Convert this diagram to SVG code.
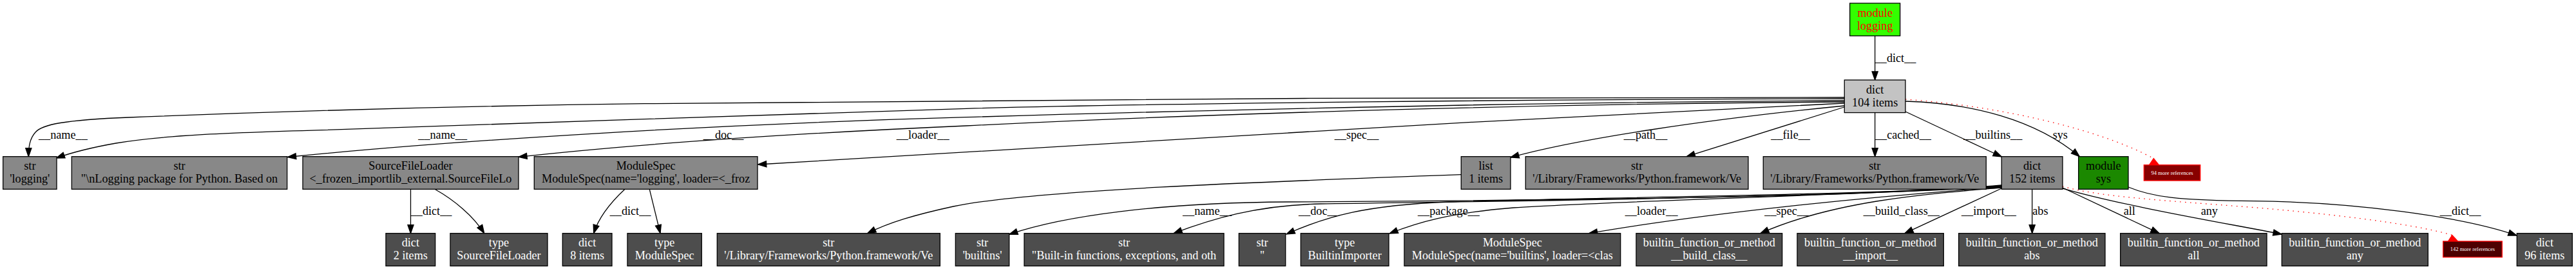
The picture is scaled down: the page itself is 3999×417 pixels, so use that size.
<svg xmlns="http://www.w3.org/2000/svg" width="3999" height="417" viewBox="0 0 3999 417">
<style>
.bx{stroke:#000;stroke-width:1.3}
.d1{fill:#c3c3c3}.d2{fill:#888888}.d3{fill:#4d4d4d}
.gl{fill:#33ff00}.gs{fill:#1b8800}
.rm{fill:#880000;stroke:#ff0000;stroke-width:1.3}.rm3{fill:#4d0000;stroke:#ff0000;stroke-width:1.3}
text{font-family:"Liberation Serif","Times New Roman",serif;font-size:18.2px;fill:#000}
.c{text-anchor:middle}
.w{fill:#fff}
.red{fill:#ff0000}
.sm{font-size:8.5px;fill:#fff;text-anchor:middle}
.e{fill:none;stroke:#000;stroke-width:1.3;marker-end:url(#ah)}
.r{fill:none;stroke:#ff0000;stroke-width:1.3;stroke-dasharray:1.5 6.5}
.ra{fill:#ff0000;stroke:#ff0000;stroke-width:1.3}
</style>
<defs>
<marker id="ah" markerUnits="userSpaceOnUse" markerWidth="16" markerHeight="12" viewBox="-1 -1 16 12" refX="13" refY="4.55" orient="auto" overflow="visible">
<path d="M0,0 L13,4.55 L0,9.1 Z" fill="#000" stroke="#000" stroke-width="1.3"/>
</marker>
</defs>
<rect width="3999" height="417" fill="#fff"/>

<g id="connectors">
<path class="e" d="M2910.7,55.6 L2910.7,124"/>
<path class="e" d="M2863,151 C2300,151 1500,153 1000,160.7 C700,164.5 400,174 200,182 C100,186 65,193 55,205 C46,215 44.3,228 44.3,242.7"/>
<path class="e" d="M2863,153 C2400,154 1800,160 1500,168.3 C1200,176 800,193 500,201.7 C350,206 250,210 180,222 C140,229 110,237 87.3,245"/>
<path class="e" d="M2863,156 C2400,158 1900,170 1500,181.7 C1100,193 700,218 446.5,243.5"/>
<path class="e" d="M2863,158 C2400,161 1900,175 1500,195 C1250,206 1000,222 805,243.3"/>
<path class="e" d="M2863,160 C2700,166 2300,188 2000,206 C1700,224 1400,243 1176.7,255"/>
<path class="e" d="M2863,164 C2650,185 2450,215 2345,244"/>
<path class="e" d="M2863,166 L2618.3,242.7"/>
<path class="e" d="M2910.7,174 L2910.7,242.7"/>
<path class="e" d="M2958,173 L3107.3,243"/>
<path class="e" d="M2958,157 C3060,160 3160,185 3228.3,242.7"/>
<path class="r" d="M2958,154 C3080,162 3250,195 3343.3,245.7"/>
<polygon class="ra" points="3343.3,245.7 3336.5,255.7 3351.5,255.7"/>

<path class="e" d="M637.5,293.3 L637.5,361.7"/>
<path class="e" d="M675,293.3 C705,310 735,335 751.7,361.7"/>
<path class="e" d="M970,293.3 C950,312 930,335 921.7,361.7"/>
<path class="e" d="M1008.3,293.3 L1025,361.7"/>
<path class="e" d="M2268.3,270.7 C1950,282 1600,295 1480,320 C1420,333 1380,345 1346.7,361.7"/>

<path class="e" d="M3107.3,287 C2900,305 2500,310 2000,313 C1800,314 1650,335 1566.7,363.3"/>
<path class="e" d="M3107.3,288 C2800,308 2300,312 2050,316 C1950,318 1880,340 1822,361.7"/>
<path class="e" d="M3107.3,289 C2800,305 2450,306 2250,313 C2120,318 2060,335 1997,363"/>
<path class="e" d="M3107.3,290 C2800,305 2500,312 2350,322 C2250,330 2200,345 2157,362"/>
<path class="e" d="M3107.3,290 C2900,305 2650,330 2466.7,361.7"/>
<path class="e" d="M3107.3,291 C3000,300 2850,310 2733,361.7"/>
<path class="e" d="M3107.3,292 L2957,361.7"/>
<path class="e" d="M3154.7,293.3 L3154.7,361.7"/>
<path class="e" d="M3202,291 L3352,361.7"/>
<path class="e" d="M3202,292 C3300,320 3450,345 3542,363"/>
<path class="r" d="M3202,289 C3260,305 3350,310 3500,321.7 C3600,330 3740,345 3806.7,364.5"/>
<polygon class="ra" points="3806.7,364.5 3800.5,374 3815.5,374"/>
<path class="e" d="M3304,290 C3340,305 3380,311 3500,311.7 C3650,313 3820,335 3907,365"/>

<text x="2910.7" y="96">__dict__</text>
<text x="60" y="215">__name__</text>
<text x="649.3" y="215">__name__</text>
<text x="1091.7" y="215">__doc__</text>
<text x="1391.7" y="215">__loader__</text>
<text x="2071.7" y="215">__spec__</text>
<text x="2520.7" y="215">__path__</text>
<text x="2749.3" y="215">__file__</text>
<text x="2911" y="215">__cached__</text>
<text x="3048.3" y="215">__builtins__</text>
<text x="3186.7" y="215">sys</text>
<text x="637.7" y="332.7">__dict__</text>
<text x="946.7" y="332.7">__dict__</text>
<text x="1836" y="332.7">__name__</text>
<text x="2016" y="332.7">__doc__</text>
<text x="2201" y="332.7">__package__</text>
<text x="2522.7" y="332.7">__loader__</text>
<text x="2739.3" y="332.7">__spec__</text>
<text x="2892.7" y="332.7">__build_class__</text>
<text x="3045" y="332.7">__import__</text>
<text x="3155.3" y="332.7">abs</text>
<text x="3296.7" y="332.7">all</text>
<text x="3416.7" y="332.7">any</text>
<text x="3787.7" y="332.7">__dict__</text>
</g>

<g id="n_module_logging"><rect class="bx gl" x="2871.7" y="5" width="78" height="50.6"/><text class="c red" x="2910.7" y="25.6">module</text><text class="c red" x="2910.7" y="45.6">logging</text></g>
<g id="n_dict104"><rect class="bx d1" x="2863.3" y="124" width="94.7" height="50.6"/><text class="c" x="2910.65" y="144.6">dict</text><text class="c" x="2910.65" y="164.6">104 items</text></g>

<g id="n_str_logging"><rect class="bx d2" x="4.7" y="242.7" width="83.3" height="50.6"/><text class="c" x="46.35" y="263.3">str</text><text class="c" x="46.35" y="283.3">'logging'</text></g>
<g id="n_str_doc"><rect class="bx d2" x="111.3" y="242.7" width="334.4" height="50.6"/><text class="c" x="278.5" y="263.3">str</text><text class="c" x="278.5" y="283.3">"\nLogging package for Python. Based on</text></g>
<g id="n_sfl"><rect class="bx d2" x="470" y="242.7" width="335" height="50.6"/><text class="c" x="637.5" y="263.3">SourceFileLoader</text><text class="c" x="637.5" y="283.3">&lt;_frozen_importlib_external.SourceFileLo</text></g>
<g id="n_modspec_logging"><rect class="bx d2" x="829.3" y="242.7" width="346.7" height="50.6"/><text class="c" x="1002.65" y="263.3">ModuleSpec</text><text class="c" x="1002.65" y="283.3">ModuleSpec(name='logging', loader=&lt;_froz</text></g>
<g id="n_list"><rect class="bx d2" x="2268.3" y="242.7" width="76.7" height="50.6"/><text class="c" x="2306.65" y="263.3">list</text><text class="c" x="2306.65" y="283.3">1 items</text></g>
<g id="n_str_file"><rect class="bx d2" x="2368.3" y="242.7" width="345.7" height="50.6"/><text class="c" x="2541.15" y="263.3">str</text><text class="c" x="2541.15" y="283.3">'/Library/Frameworks/Python.framework/Ve</text></g>
<g id="n_str_cached"><rect class="bx d2" x="2737.3" y="242.7" width="346" height="50.6"/><text class="c" x="2910.3" y="263.3">str</text><text class="c" x="2910.3" y="283.3">'/Library/Frameworks/Python.framework/Ve</text></g>
<g id="n_dict152"><rect class="bx d2" x="3107.3" y="242.7" width="94.7" height="50.6"/><text class="c" x="3154.65" y="263.3">dict</text><text class="c" x="3154.65" y="283.3">152 items</text></g>
<g id="n_module_sys"><rect class="bx gs" x="3226.7" y="242.7" width="77.3" height="50.6"/><text class="c" x="3265.35" y="263.3">module</text><text class="c" x="3265.35" y="283.3">sys</text></g>
<g id="n_more94"><rect class="rm" x="3328.3" y="255.7" width="87.4" height="24.3"/><text class="sm" x="3372" y="270.5">94 more references</text></g>

<g id="n_dict2"><rect class="bx d3" x="599" y="361.7" width="76.7" height="50.6"/><text class="c w" x="637.35" y="382.3">dict</text><text class="c w" x="637.35" y="402.3">2 items</text></g>
<g id="n_type_sfl"><rect class="bx d3" x="699" y="361.7" width="151" height="50.6"/><text class="c w" x="774.5" y="382.3">type</text><text class="c w" x="774.5" y="402.3">SourceFileLoader</text></g>
<g id="n_dict8"><rect class="bx d3" x="873.3" y="361.7" width="76.7" height="50.6"/><text class="c w" x="911.65" y="382.3">dict</text><text class="c w" x="911.65" y="402.3">8 items</text></g>
<g id="n_type_modspec"><rect class="bx d3" x="974" y="361.7" width="115.3" height="50.6"/><text class="c w" x="1031.65" y="382.3">type</text><text class="c w" x="1031.65" y="402.3">ModuleSpec</text></g>
<g id="n_str_path"><rect class="bx d3" x="1113.3" y="361.7" width="346" height="50.6"/><text class="c w" x="1286.3" y="382.3">str</text><text class="c w" x="1286.3" y="402.3">'/Library/Frameworks/Python.framework/Ve</text></g>
<g id="n_str_builtins"><rect class="bx d3" x="1483.3" y="361.7" width="83.4" height="50.6"/><text class="c w" x="1525" y="382.3">str</text><text class="c w" x="1525" y="402.3">'builtins'</text></g>
<g id="n_str_bdoc"><rect class="bx d3" x="1590" y="361.7" width="310" height="50.6"/><text class="c w" x="1745" y="382.3">str</text><text class="c w" x="1745" y="402.3">"Built-in functions, exceptions, and oth</text></g>
<g id="n_str_empty"><rect class="bx d3" x="1923.3" y="361.7" width="72.4" height="50.6"/><text class="c w" x="1959.5" y="382.3">str</text><text class="c w" x="1959.5" y="402.3">''</text></g>
<g id="n_type_bi"><rect class="bx d3" x="2019.3" y="361.7" width="136.7" height="50.6"/><text class="c w" x="2087.65" y="382.3">type</text><text class="c w" x="2087.65" y="402.3">BuiltinImporter</text></g>
<g id="n_modspec_builtins"><rect class="bx d3" x="2180" y="361.7" width="335.7" height="50.6"/><text class="c w" x="2347.85" y="382.3">ModuleSpec</text><text class="c w" x="2347.85" y="402.3">ModuleSpec(name='builtins', loader=&lt;clas</text></g>
<g id="n_bf_build_class"><rect class="bx d3" x="2540" y="361.7" width="226.7" height="50.6"/><text class="c w" x="2653.35" y="382.3">builtin_function_or_method</text><text class="c w" x="2653.35" y="402.3">__build_class__</text></g>
<g id="n_bf_import"><rect class="bx d3" x="2790" y="361.7" width="227.3" height="50.6"/><text class="c w" x="2903.65" y="382.3">builtin_function_or_method</text><text class="c w" x="2903.65" y="402.3">__import__</text></g>
<g id="n_bf_abs"><rect class="bx d3" x="3040.7" y="361.7" width="227.3" height="50.6"/><text class="c w" x="3154.35" y="382.3">builtin_function_or_method</text><text class="c w" x="3154.35" y="402.3">abs</text></g>
<g id="n_bf_all"><rect class="bx d3" x="3291.7" y="361.7" width="227.3" height="50.6"/><text class="c w" x="3405.35" y="382.3">builtin_function_or_method</text><text class="c w" x="3405.35" y="402.3">all</text></g>
<g id="n_bf_any"><rect class="bx d3" x="3542.3" y="361.7" width="227" height="50.6"/><text class="c w" x="3655.8" y="382.3">builtin_function_or_method</text><text class="c w" x="3655.8" y="402.3">any</text></g>
<g id="n_more142"><rect class="rm3" x="3792.7" y="374" width="91.6" height="24.7"/><text class="sm" x="3838.5" y="389">142 more references</text></g>
<g id="n_dict96"><rect class="bx d3" x="3907.3" y="361.7" width="86" height="50.6"/><text class="c w" x="3950.3" y="382.3">dict</text><text class="c w" x="3950.3" y="402.3">96 items</text></g>
</svg>
